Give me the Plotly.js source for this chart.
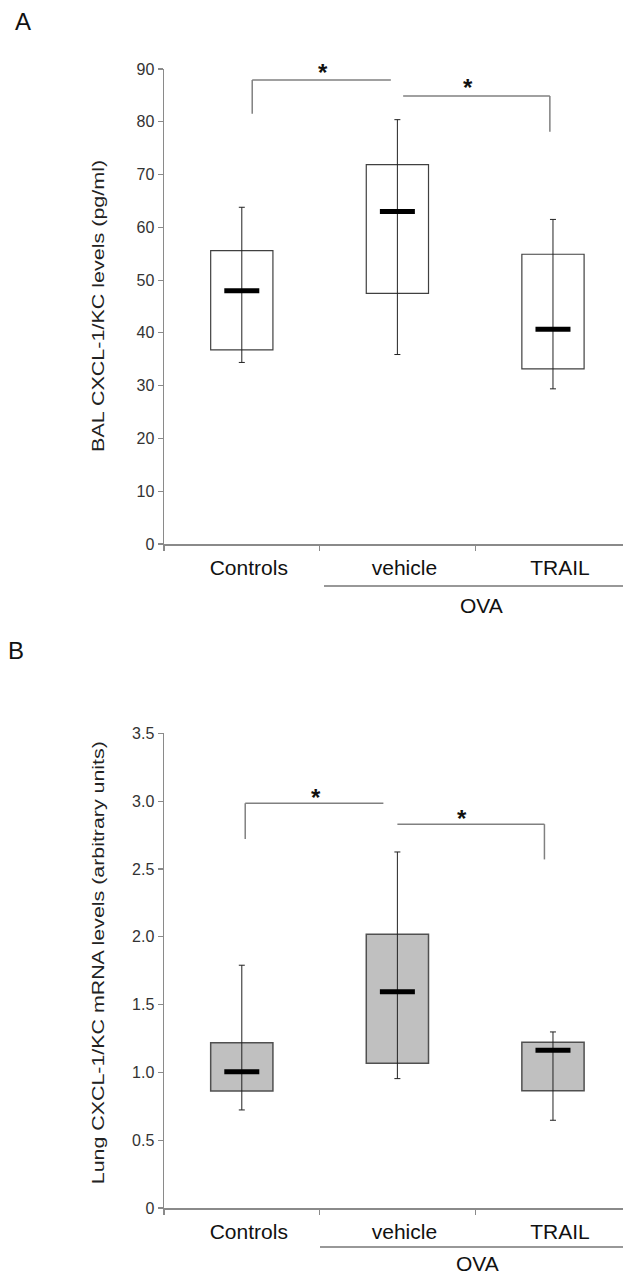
<!DOCTYPE html>
<html>
<head>
<meta charset="utf-8">
<script src="https://cdn.plot.ly/plotly-3.0.1.min.js"></script>
<style>html,body{margin:0;padding:0;background:#fff;}#chart{width:623px;height:1277px;}</style>
</head>
<body>
<div id="chart"></div>
<script>
// ---------- data ----------
const categories = ['Controls', 'vehicle', 'TRAIL'];

// Panel A: BAL CXCL-1/KC levels (pg/ml)
const boxLowA  = [36.8, 47.5, 33.2];
const boxHighA = [55.6, 71.9, 54.9];
const medianA  = [48.0, 63.0, 40.7];
const whiskerHighA = [63.8, 80.4, 61.5];
const whiskerLowA  = [34.4, 35.9, 29.4];
const yTicksA = [0, 10, 20, 30, 40, 50, 60, 70, 80, 90];
const yTickTextA = ['0', '10', '20', '30', '40', '50', '60', '70', '80', '90'];
// brackets: [xStart, xEnd, level, dropTo, dropSide('start'|'end'), starX]
const bracketsA = [
  [0.067, 0.958, 87.9, 81.5, 'start', 0.523],
  [1.037, 1.980, 84.9, 78.1, 'end', 1.453]
];

// Panel B: Lung CXCL-1/KC mRNA levels (arbitrary units)
const boxLowB  = [0.863, 1.067, 0.865];
const boxHighB = [1.219, 2.018, 1.222];
const medianB  = [1.005, 1.595, 1.163];
const whiskerHighB = [1.79, 2.625, 1.298];
const whiskerLowB  = [0.723, 0.954, 0.647];
const yTicksB = [0, 0.5, 1.0, 1.5, 2.0, 2.5, 3.0, 3.5];
const yTickTextB = ['0', '0.5', '1.0', '1.5', '2.0', '2.5', '3.0', '3.5'];
const bracketsB = [
  [0.022, 0.910, 2.985, 2.72, 'start', 0.478],
  [1.000, 1.945, 2.830, 2.57, 'end', 1.415]
];

const titleA = 'BAL CXCL-1/KC levels (pg/ml)';
const titleB = 'Lung CXCL-1/KC mRNA levels (arbitrary units)';
const groupLabel = 'OVA';

// ---------- styling ----------
const FONT = 'Liberation Sans, Arial, Helvetica, sans-serif';
const W = 623, H = 1277;
const axisGray = '#8a8a8a';

function diff(a, b) { return a.map((v, i) => v - b[i]); }

function panelTraces(xa, ya, low, high, med, wHi, wLo, fill, lineCol, lineW) {
  return [
    {
      type: 'bar', x: categories, y: diff(high, low), base: low,
      xaxis: xa, yaxis: ya, width: 0.4,
      marker: {color: fill, line: {color: lineCol, width: lineW}},
      hoverinfo: 'skip', showlegend: false
    },
    {
      type: 'scatter', mode: 'markers', x: categories, y: med,
      xaxis: xa, yaxis: ya,
      marker: {symbol: 'line-ew-open', size: 25, color: '#000', line: {color: '#000', width: 5}},
      error_y: {type: 'data', symmetric: false, array: diff(wHi, med), arrayminus: diff(med, wLo),
                color: '#222', thickness: 1, width: 3},
      hoverinfo: 'skip', showlegend: false
    }
  ];
}

const data = [
  ...panelTraces('x', 'y', boxLowA, boxHighA, medianA, whiskerHighA, whiskerLowA, '#ffffff', '#404040', 1.2),
  ...panelTraces('x2', 'y2', boxLowB, boxHighB, medianB, whiskerHighB, whiskerLowB, '#c0c0c0', '#505050', 1.5)
];

const shapes = [];
const annotations = [];
function addBrackets(list, xr, yr, starShift) {
  list.forEach(b => {
    const [x0, x1, lvl, drop, side, sx] = b;
    shapes.push({type: 'line', xref: xr, yref: yr, x0: x0, x1: x1, y0: lvl, y1: lvl,
                 line: {color: '#808080', width: 1.5}});
    const xd = side === 'start' ? x0 : x1;
    shapes.push({type: 'line', xref: xr, yref: yr, x0: xd, x1: xd, y0: drop, y1: lvl,
                 line: {color: '#808080', width: 1.5}});
    annotations.push({xref: xr, yref: yr, x: sx, y: lvl, text: '*', showarrow: false,
                      yanchor: 'middle', yshift: starShift, font: {family: FONT, size: 24, color: '#111', weight: 'bold'}});
  });
}
addBrackets(bracketsA, 'x', 'y', 8);
addBrackets(bracketsB, 'x2', 'y2', 6);

// OVA grouping lines
shapes.push({type: 'line', xref: 'paper', yref: 'paper', x0: 324 / W, x1: 1, y0: 1 - 586 / H, y1: 1 - 586 / H,
             line: {color: '#333', width: 1.2}});
shapes.push({type: 'line', xref: 'paper', yref: 'paper', x0: 320 / W, x1: 1, y0: 1 - 1247 / H, y1: 1 - 1247 / H,
             line: {color: '#333', width: 1.2}});
annotations.push({xref: 'paper', yref: 'paper', x: 481 / W, y: 1 - 605 / H, text: groupLabel, showarrow: false,
                  xanchor: 'center', yanchor: 'middle', font: {family: FONT, size: 21, color: '#111'}});
annotations.push({xref: 'paper', yref: 'paper', x: 477 / W, y: 0, text: groupLabel, showarrow: false,
                  xanchor: 'center', yanchor: 'bottom', font: {family: FONT, size: 21, color: '#111'}});

// panel letters
annotations.push({xref: 'paper', yref: 'paper', x: 23 / W, y: 1 - 21.5 / H, text: 'A', showarrow: false,
                  xanchor: 'center', yanchor: 'middle', font: {family: FONT, size: 24, color: '#111'}});
annotations.push({xref: 'paper', yref: 'paper', x: 15.5 / W, y: 1 - 650.5 / H, text: 'B', showarrow: false,
                  xanchor: 'center', yanchor: 'middle', font: {family: FONT, size: 24, color: '#111'}});

// y-axis titles
annotations.push({xref: 'paper', yref: 'paper', x: 97.5 / W, y: 1 - 306 / H, text: titleA, showarrow: false,
                  textangle: -90, xanchor: 'center', yanchor: 'middle', font: {family: FONT, size: 16, color: '#222'}});
annotations.push({xref: 'paper', yref: 'paper', x: 97.5 / W, y: 1 - 963 / H, text: titleB, showarrow: false,
                  textangle: -90, xanchor: 'center', yanchor: 'middle', font: {family: FONT, size: 16, color: '#222'}});

function xAxis(anchor) {
  return {
    anchor: anchor, domain: [164 / W, 1], type: 'category', categoryorder: 'array', categoryarray: categories,
    range: [-0.5, 2.45], tickson: 'boundaries', ticks: 'outside', ticklen: 5, tickwidth: 1.2, tickcolor: axisGray,
    showline: true, linecolor: axisGray, linewidth: 1.5, showgrid: false, zeroline: false,
    tickfont: {family: FONT, size: 21, color: '#111'}, ticklabelshift: 7, ticklabelstandoff: 4, fixedrange: true
  };
}
function yAxis(anchor, dom, rng, tv, tt) {
  return {
    anchor: anchor, domain: dom, range: rng, tickmode: 'array', tickvals: tv, ticktext: tt,
    ticks: 'outside', ticklen: 5, tickwidth: 1.2, tickcolor: axisGray,
    showline: true, linecolor: axisGray, linewidth: 1.5, showgrid: false, zeroline: false,
    tickfont: {family: FONT, size: 16, color: '#333'}, fixedrange: true
  };
}

const layout = {
  width: W, height: H, margin: {l: 0, r: 0, t: 0, b: 0}, paper_bgcolor: '#fff', plot_bgcolor: '#fff',
  showlegend: false, barmode: 'overlay',
  xaxis: xAxis('y'),
  yaxis: yAxis('x', [(H - 544) / H, (H - 69) / H], [0, 90], yTicksA, yTickTextA),
  xaxis2: xAxis('y2'),
  yaxis2: yAxis('x2', [(H - 1208) / H, (H - 733.3) / H], [0, 3.5], yTicksB, yTickTextB),
  shapes: shapes, annotations: annotations
};

Plotly.newPlot('chart', data, layout, {staticPlot: true, displayModeBar: false}).then(() => {
  // the source figure's axis titles are stretched along their length
  const stretch = {};
  stretch[titleA] = 292;
  stretch[titleB] = 443;
  document.querySelectorAll('text.annotation-text').forEach(t => {
    const L = stretch[t.textContent];
    if (L) { t.setAttribute('textLength', L); t.setAttribute('lengthAdjust', 'spacingAndGlyphs'); }
  });
});
</script>
</body>
</html>
